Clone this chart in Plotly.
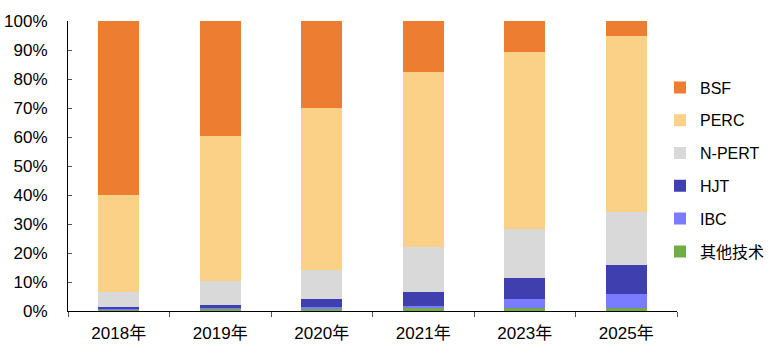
import plotly.graph_objects as go

years = ["2018年", "2019年", "2020年", "2021年", "2023年", "2025年"]
other = [0.5, 1.0, 0.7, 0.9, 0.9, 0.9]
ibc = [0.2, 0.2, 0.7, 0.8, 3.1, 5.0]
hjt = [0.8, 0.8, 2.7, 5.0, 7.3, 10.0]
npert = [5.0, 8.2, 10.0, 15.3, 17.0, 18.2]
perc = [33.5, 50.1, 55.9, 60.4, 61.0, 60.7]
bsf = [60.0, 39.7, 30.0, 17.6, 10.7, 5.2]

series = [
    ("其他技术", other, "#70AD47"),
    ("IBC", ibc, "#7B7BFF"),
    ("HJT", hjt, "#3F3FAF"),
    ("N-PERT", npert, "#D9D9D9"),
    ("PERC", perc, "#FBD087"),
    ("BSF", bsf, "#ED7D31"),
]

fig = go.Figure()
for i, (name, vals, color) in enumerate(series):
    fig.add_trace(go.Bar(
        x=years, y=[v / 100 for v in vals], name=name, legendgroup=name,
        legendrank=len(series) - i,
        marker=dict(color=color, line=dict(width=0)),
    ))

font_family = "Liberation Sans, Arial, Noto Sans CJK SC, sans-serif"
fig.update_layout(
    barmode="stack",
    bargap=0.6,
    width=775, height=354,
    margin=dict(l=68, r=98, t=21, b=43, autoexpand=False),
    paper_bgcolor="white", plot_bgcolor="white",
    font=dict(family=font_family, size=17, color="black"),
    showlegend=True,
    legend=dict(
        xref="container", yref="container",
        x=660 / 775, xanchor="left", y=1 - 169.5 / 354, yanchor="middle",
        traceorder="grouped", tracegroupgap=9, maxheight=340,
        font=dict(size=16, family=font_family),
        bgcolor="rgba(0,0,0,0)",
    ),
    xaxis=dict(
        showline=True, linecolor="black", linewidth=1,
        ticks="outside", tickson="boundaries", ticklen=5, tickcolor="#555",
        showgrid=False, tickfont=dict(size=17), ticklabelstandoff=7,
        automargin=False,
    ),
    yaxis=dict(
        range=[0, 1], tickformat=".0%", dtick=0.1,
        showline=True, linecolor="black", linewidth=1,
        ticks="inside", ticklen=4, tickcolor="#555",
        showgrid=False, zeroline=False, tickfont=dict(size=17),
        ticklabelstandoff=16, automargin=False,
    ),
)

fig.write_html("out.html")
